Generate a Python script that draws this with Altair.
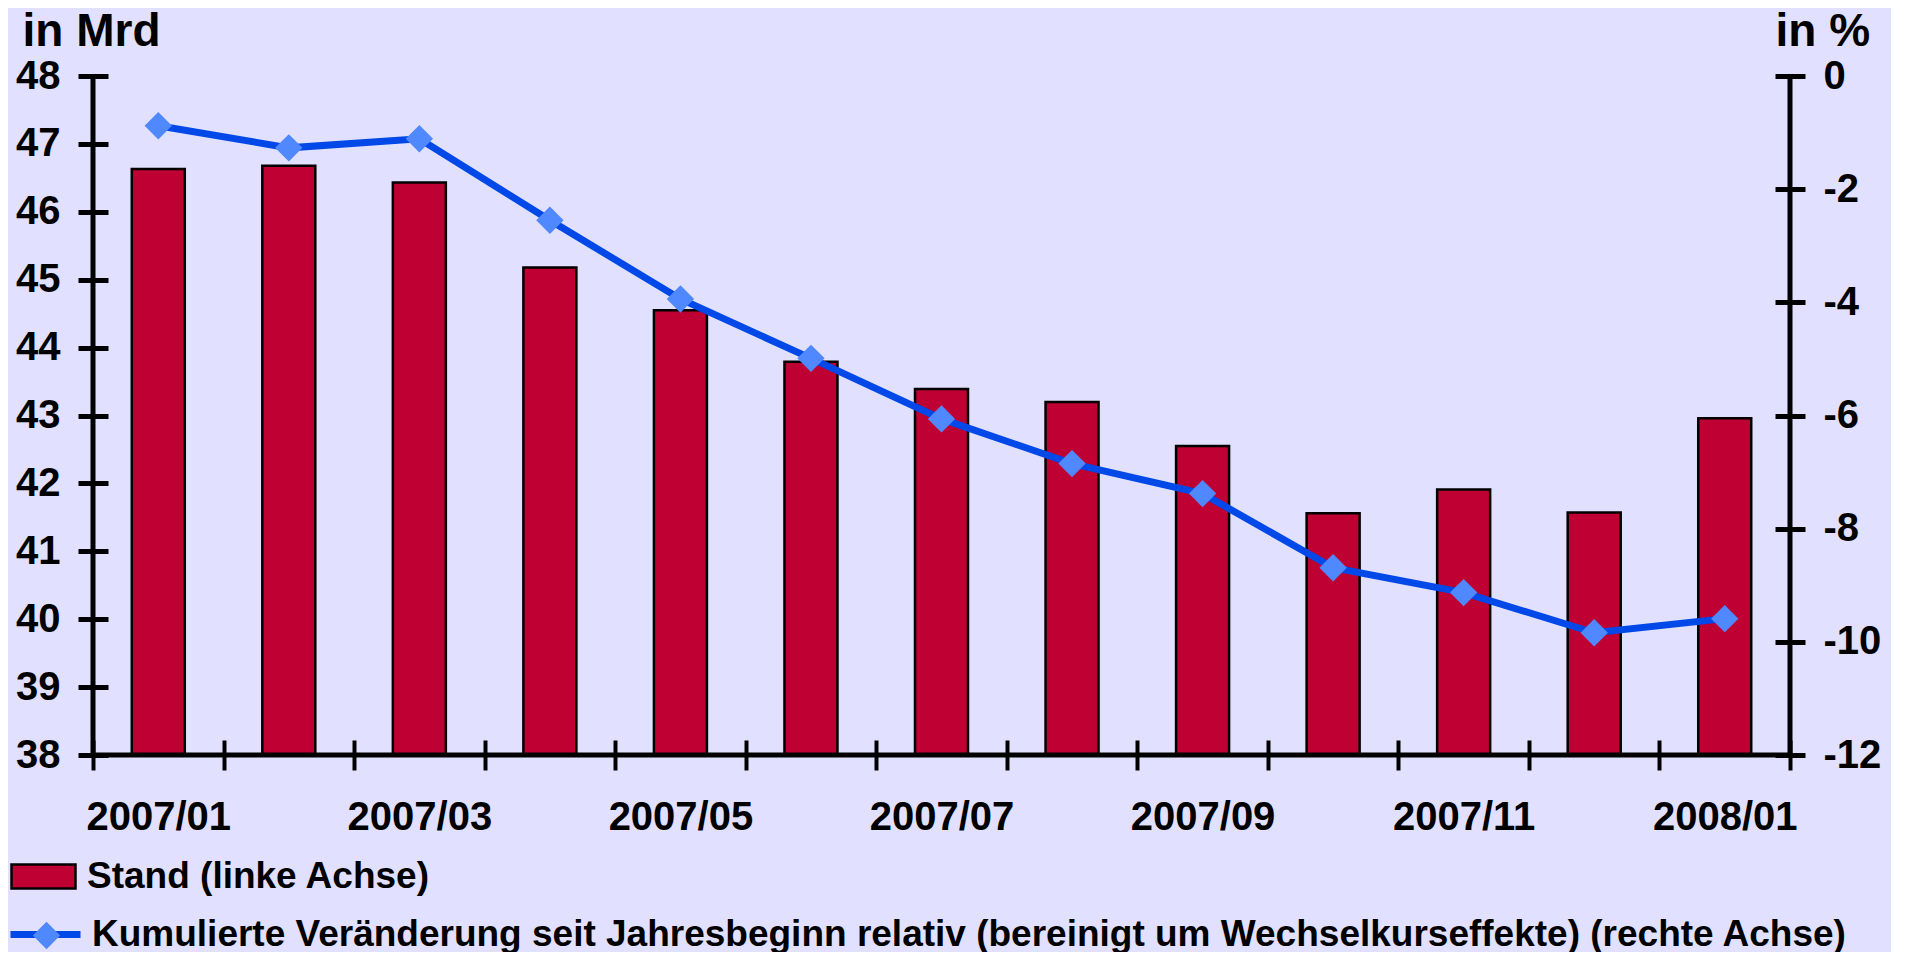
import altair as alt
import pandas as pd

# ---- data ----
months = ["2007/01", "2007/02", "2007/03", "2007/04", "2007/05", "2007/06", "2007/07",
          "2007/08", "2007/09", "2007/10", "2007/11", "2007/12", "2008/01"]
stand = [46.63, 46.68, 46.43, 45.18, 44.55, 43.79, 43.39, 43.20, 42.55, 41.56, 41.91, 41.57, 42.96]
change = [-0.88, -1.27, -1.11, -2.55, -3.94, -4.99, -6.06, -6.85, -7.38, -8.69, -9.13, -9.84, -9.59]
left_ticks = [38, 39, 40, 41, 42, 43, 44, 45, 46, 47, 48]
right_ticks = [-12, -10, -8, -6, -4, -2, 0]
label_bar = "Stand (linke Achse)"
label_line = "Kumulierte Veränderung seit Jahresbeginn relativ (bereinigt um Wechselkurseffekte) (rechte Achse)"
title_left = "in Mrd"
title_right = "in %"

# ---- styling ----
FONT = "Liberation Sans"
BG = "#E1E1FF"
RED = "#BE0032"
BLUE = "#0048E8"
LIGHT = "#5088FF"
W, H = 1697, 679
AXW = 5
LEGFS = 37

df = pd.DataFrame({
    "Monat": months,
    "Stand": stand,
    "Veraenderung": change,
    "s1": [label_bar] * len(months),
    "s2": [label_line] * len(months),
    "s3": [label_line] * len(months),
})

x_enc = alt.X(
    "Monat:N", sort=months, title=None,
    scale=alt.Scale(paddingInner=0, paddingOuter=0),
    axis=alt.Axis(
        orient="bottom", domain=False, tickBand="extent", tickSize=30, offset=-15,
        tickWidth=4, tickColor="black", labelAngle=0, labelPadding=27,
        labelFont=FONT, labelFontSize=40, labelFontWeight="bold", labelColor="black",
        labelExpr="toNumber(substring(datum.value, 5, 7)) % 2 == 1 ? datum.label : ''",
    ),
)

left_axis = alt.Axis(
    orient="left", values=left_ticks, domain=False, tickSize=30, offset=-15,
    tickWidth=AXW, tickColor="black", labelPadding=18, grid=False,
    labelFont=FONT, labelFontSize=40, labelFontWeight="bold", labelColor="black",
    labelExpr="'' + datum.value",
    title=title_left, titleAngle=0, titleAlign="left", titleBaseline="alphabetic",
    titleX=-86, titleY=-31, titleFont=FONT, titleFontSize=46, titleFontWeight="bold",
    titleColor="black",
)
right_axis = alt.Axis(
    orient="right", values=right_ticks, domain=False, tickSize=30, offset=-15,
    tickWidth=AXW, tickColor="black", labelPadding=18, grid=False,
    labelFont=FONT, labelFontSize=40, labelFontWeight="bold", labelColor="black",
    labelExpr="'' + datum.value",
    title=title_right, titleAngle=0, titleAlign="left", titleBaseline="alphabetic",
    titleX=0, titleY=-31, titleFont=FONT, titleFontSize=46, titleFontWeight="bold",
    titleColor="black",
)

base = alt.Chart(df)

bars = base.mark_bar(
    width=alt.RelativeBandSize(0.406), stroke="black", strokeWidth=2.5, clip=True
).encode(
    x=x_enc,
    y=alt.Y("Stand:Q", scale=alt.Scale(domain=[38, 48], zero=False, nice=False), axis=left_axis),
    fill=alt.Fill("s1:N", title=None, scale=alt.Scale(range=[RED]), legend=alt.Legend(
        orient="none", legendX=-83, legendY=767, padding=0, title=None,
        symbolType="M-1,-0.375H1V0.375H-1Z", symbolSize=4096, symbolStrokeColor="black",
        symbolStrokeWidth=2.5, symbolFillColor=RED, symbolOpacity=1, labelOffset=10,
        labelFont=FONT, labelFontSize=LEGFS, labelFontWeight="bold", labelColor="black",
        labelLimit=2000,
    )),
)

y_right = alt.Y("Veraenderung:Q", scale=alt.Scale(domain=[-12, 0], nice=False, zero=False), axis=right_axis)

line = base.mark_line(strokeWidth=7).encode(
    x=x_enc,
    y=y_right,
    stroke=alt.Stroke("s2:N", title=None, scale=alt.Scale(range=[BLUE]), legend=alt.Legend(
        orient="none", legendX=-86, legendY=820, padding=0, title=None,
        symbolType="stroke", symbolSize=4900, symbolStrokeWidth=7, symbolStrokeColor=BLUE,
        labelOffset=8, labelFont=FONT, labelFontSize=LEGFS, labelFontWeight="bold",
        labelColor="black", labelLimit=2000,
    )),
)

points = base.mark_point(filled=True, opacity=1, size=750, color=LIGHT).encode(
    x=x_enc,
    y=y_right,
    shape=alt.Shape("s3:N", title=None, scale=alt.Scale(range=["diamond"]), legend=alt.Legend(
        orient="none", legendX=-65, legendY=841, padding=0, title=None,
        symbolSize=750, symbolFillColor=LIGHT, symbolStrokeWidth=0, symbolOpacity=1,
        labelExpr="''", labelFont=FONT, labelFontSize=LEGFS, labelFontWeight="bold",
        labelLimit=2000,
    )),
)

right_layer = alt.layer(line, points)

frame_df = pd.DataFrame({"k": [0]})
frame_left = alt.Chart(frame_df).mark_rule(color="black", strokeWidth=AXW).encode(
    x=alt.value(0), y=alt.value(0), y2=alt.value(H))
frame_right = alt.Chart(frame_df).mark_rule(color="black", strokeWidth=AXW).encode(
    x=alt.value(W), y=alt.value(0), y2=alt.value(H))
frame_bottom = alt.Chart(frame_df).mark_rule(color="black", strokeWidth=AXW).encode(
    x=alt.value(0), x2=alt.value(W), y=alt.value(H))

chart = alt.layer(bars, right_layer, frame_left, frame_right, frame_bottom).resolve_scale(
    y="independent", fill="independent", stroke="independent", shape="independent"
).properties(
    width=W, height=H,
    autosize=alt.AutoSizeParams(type="none"),
    padding={"left": 85, "top": 68, "right": 101, "bottom": 197},
    background=BG,
).configure_view(stroke=None)

chart.save("out.html", embed_options={"renderer": "svg", "actions": False})
